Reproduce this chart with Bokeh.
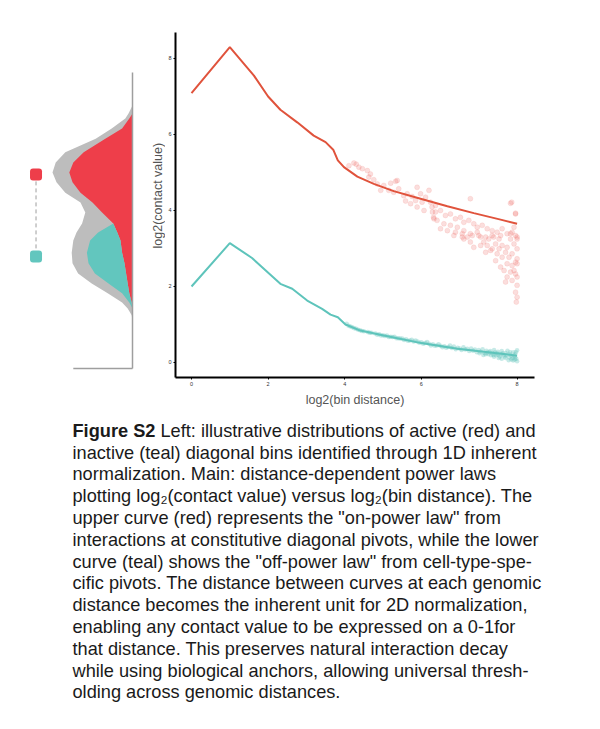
from bokeh.plotting import figure
from bokeh.layouts import column, row
from bokeh.models import Range1d, FixedTicker, Rect
from bokeh.core.properties import value
from bokeh.embed import file_html
from bokeh.resources import INLINE
import math

FONT = "Liberation Sans"

# ---------------- data ----------------
# upper "on-power law" curve
on_x = [0, 1, 1.63, 2.0, 2.32, 2.76, 3.19, 3.5, 3.7, 3.82, 3.98, 4.33, 4.76, 5.28, 5.98, 6.68, 7.37, 8.07, 8.5]
on_y = [7.09, 8.30, 7.55, 7.0, 6.65, 6.32, 5.97, 5.80, 5.60, 5.32, 5.14, 4.89, 4.70, 4.51, 4.31, 4.11, 3.93, 3.76, 3.65]
# lower "off-power law" curve
off_x = [0, 1, 1.58, 2.32, 2.63, 3.02, 3.41, 3.63, 3.82, 4.02, 4.41, 5.02, 6.0, 6.94, 8.5]
off_y = [2.0, 3.14, 2.75, 2.07, 1.94, 1.63, 1.41, 1.26, 1.19, 1.0, 0.84, 0.71, 0.51, 0.36, 0.18]

# observed contact values around the on-curve (red points)
red_pts = [
    (4.11, 5.18), (4.24, 5.25), (4.37, 5.14), (4.46, 5.10), (4.59, 5.05), (4.67, 4.96), (4.63, 4.88),
    (4.76, 4.81), (4.85, 4.70), (4.94, 4.53), (5.02, 4.66), (5.20, 4.72), (5.33, 4.77), (5.15, 4.53),
    (5.28, 4.48), (5.41, 4.57), (5.54, 4.39), (5.63, 4.44), (5.76, 4.37), (5.89, 4.61), (5.98, 4.44),
    (6.11, 4.35), (6.20, 4.53), (5.85, 4.26), (6.02, 4.22), (6.24, 4.22), (6.37, 4.13), (5.72, 4.18),
    (5.59, 4.25), (6.07, 4.00), (6.29, 3.96), (6.33, 3.78), (5.89, 4.09), (5.37, 4.79), (4.30, 5.22),
    (7.28, 4.31), (8.36, 4.22), (8.46, 3.91), (6.28, 4.09), (6.37, 3.96), (6.50, 4.00), (6.63, 3.87),
    (6.76, 3.91), (6.89, 3.78), (7.02, 3.82), (7.11, 3.69), (7.24, 3.74), (7.37, 3.65), (7.46, 3.56),
    (7.59, 3.61), (7.72, 3.52), (7.85, 3.47), (7.98, 3.43), (8.11, 3.52), (8.24, 3.39), (8.37, 3.43),
    (8.46, 3.34), (6.41, 3.74), (6.59, 3.65), (6.76, 3.61), (6.94, 3.56), (7.11, 3.47), (7.28, 3.39),
    (7.50, 3.34), (7.68, 3.30), (7.89, 3.30), (8.07, 3.34), (6.68, 3.47), (6.85, 3.34), (7.07, 3.30),
    (6.50, 3.52), (6.32, 3.82), (8.42, 3.56), (8.50, 3.25), (8.33, 3.25), (8.33, 4.19), (8.46, 3.93),
    (6.89, 3.43), (7.07, 3.39), (7.20, 3.30), (7.33, 3.34), (7.46, 3.43), (7.55, 3.30), (7.63, 3.17),
    (7.76, 3.25), (7.85, 3.34), (7.94, 3.12), (8.03, 2.99), (8.11, 3.08), (8.20, 2.90), (8.29, 2.77),
    (8.37, 2.86), (8.46, 2.64), (8.50, 2.73), (8.42, 2.42), (8.24, 2.60), (8.11, 2.77), (7.98, 2.86),
    (7.85, 2.99), (7.72, 3.08), (8.33, 3.39), (8.50, 2.99), (8.50, 2.60), (8.46, 2.33), (8.37, 2.16),
    (8.50, 2.03), (8.46, 1.85), (8.50, 1.72), (8.48, 1.59), (8.16, 2.42), (8.24, 2.25), (8.07, 2.51),
    (8.33, 2.38), (7.81, 2.95), (7.55, 3.08), (7.28, 3.17), (7.37, 3.03), (7.68, 2.90), (7.94, 2.68),
    (8.24, 3.03), (8.42, 3.12), (8.50, 3.30), (8.03, 3.25), (7.11, 3.25), (8.37, 2.55), (8.50, 2.25),
    (8.20, 2.12),
]
# observed contact values around the off-curve (teal points)
teal_pts = [
    (4.05, 1.02), (4.10, 0.97), (4.15, 0.95), (4.20, 0.93), (4.25, 0.90), (4.30, 0.89), (4.35, 0.86),
    (4.40, 0.85), (4.45, 0.83), (4.50, 0.82), (4.60, 0.80), (4.65, 0.78), (4.70, 0.78), (4.80, 0.76),
    (4.85, 0.73), (4.90, 0.74), (5.00, 0.72), (5.05, 0.70), (5.10, 0.71), (5.20, 0.68), (5.25, 0.67),
    (5.30, 0.68), (5.40, 0.64), (5.45, 0.63), (5.50, 0.63), (5.55, 0.59), (5.60, 0.61), (5.70, 0.58),
    (5.75, 0.60), (5.80, 0.55), (5.90, 0.55), (5.95, 0.52), (6.00, 0.53), (6.05, 0.49), (6.10, 0.51),
    (6.20, 0.49), (6.25, 0.45), (6.30, 0.48), (6.35, 0.44), (6.40, 0.45), (6.50, 0.44), (6.55, 0.40),
    (6.60, 0.43), (6.65, 0.39), (6.70, 0.41), (6.80, 0.38), (6.85, 0.42), (6.90, 0.35), (6.95, 0.39),
    (7.00, 0.37), (7.05, 0.33), (7.10, 0.40), (7.15, 0.34), (7.20, 0.36), (7.25, 0.30), (7.30, 0.37),
    (7.35, 0.31), (7.40, 0.34), (7.45, 0.27), (7.50, 0.33), (7.55, 0.28), (7.60, 0.35), (7.65, 0.25),
    (7.70, 0.31), (7.75, 0.22), (7.80, 0.30), (7.85, 0.24), (7.90, 0.33), (7.95, 0.19), (8.00, 0.28),
    (8.05, 0.16), (8.10, 0.30), (8.15, 0.20), (8.20, 0.12), (8.25, 0.31), (8.30, 0.22), (8.35, 0.08),
    (8.40, 0.27), (8.45, 0.14), (8.50, 0.03), (8.50, 0.32), (8.45, 0.22), (8.40, 0.05), (8.35, 0.18),
    (8.48, 0.10), (8.30, 0.13), (8.20, 0.25), (8.10, 0.10), (8.00, 0.21), (7.90, 0.15),
    (7.52, 0.24), (7.62, 0.20), (7.72, 0.26), (7.82, 0.19), (7.92, 0.26), (8.02, 0.12), (8.12, 0.24),
    (8.22, 0.19), (8.32, 0.27), (8.42, 0.18), (8.47, 0.27), (8.44, 0.08), (8.38, 0.12), (8.28, 0.06),
    (8.18, 0.16), (8.08, 0.22), (7.98, 0.24), (7.88, 0.20), (7.78, 0.27), (7.68, 0.22), (6.75, 0.45),
    (6.45, 0.48), (6.15, 0.54), (5.85, 0.58), (5.65, 0.57), (5.35, 0.64), (5.15, 0.67), (4.95, 0.71),
]

x_ticks = [0, 2, 4, 6, 8.5]
x_tick_labels = ["0", "2", "4", "6", "8"]
y_ticks = [0, 2, 4, 6, 8]
x_title = "log2(bin distance)"
y_title = "log2(contact value)"

# left panel: illustrative densities over log2(contact value) levels
dens_level = [6.76, 6.55, 6.42, 6.16, 5.89, 5.53, 5.26, 5.00, 4.74, 4.47, 4.21, 3.95,
              3.66, 3.42, 3.21, 2.89, 2.61, 2.34, 2.08, 1.82, 1.58, 1.42, 1.24, 1.11]
dens_all = [0, 0.05, 0.09, 0.26, 0.46, 0.84, 0.96, 1.0, 0.95, 0.84, 0.65, 0.59,
            0.63, 0.70, 0.74, 0.76, 0.75, 0.68, 0.51, 0.31, 0.13, 0.06, 0.01, 0]
dens_active = [0, 0, 0.04, 0.13, 0.34, 0.61, 0.74, 0.79, 0.75, 0.65, 0.50, 0.38,
               0.24, 0.19, 0.15, 0.13, 0.10, 0.08, 0.06, 0.04, 0.01, 0, 0, 0]
dens_inactive = [0, 0, 0, 0, 0, 0, 0, 0, 0, 0, 0, 0,
                 0, 0.24, 0.38, 0.44, 0.45, 0.39, 0.24, 0.09, 0.03, 0, 0, 0]
peak_levels = [4.95, 2.79]   # active / inactive modes
peak_colors = ["#EE3E4A", "#62C6BE"]

caption_lines = [
    "inactive (teal) diagonal bins identified through 1D inherent",
    "normalization. Main: distance-dependent power laws",
    "plotting log\u2082(contact value) versus log\u2082(bin distance). The",
    "upper curve (red) represents the \"on-power law\" from",
    "interactions at constitutive diagonal pivots, while the lower",
    "curve (teal) shows the \"off-power law\" from cell-type-spe-",
    "cific pivots. The distance between curves at each genomic",
    "distance becomes the inherent unit for 2D normalization,",
    "enabling any contact value to be expressed on a 0-1for",
    "that distance. This preserves natural interaction decay",
    "while using biological anchors, allowing universal thresh-",
    "olding across genomic distances.",
]
caption_head = "Figure S2"
caption_first = "Left: illustrative distributions of active (red) and"

RED_LINE = "#E0533C"
TEAL = "#5EC4BB"

# shared vertical geometry (page pixels)
TOP, BOTTOM, ROW_H = 32, 33, 410
Y_RANGE = (-0.395, 8.684)

# ---------------- left panel (+ y-axis title) ----------------
left = figure(width=165, height=ROW_H, x_range=Range1d(1.65, -0.4125), y_range=Range1d(*Y_RANGE),
              toolbar_location=None, output_backend="svg",
              min_border_left=0, min_border_right=0, min_border_top=TOP, min_border_bottom=BOTTOM,
              x_axis_type=None, y_axis_type=None)
left.outline_line_color = None
left.background_fill_color = "white"
left.border_fill_color = "white"

zeros = [0] * len(dens_level)
stack_top = [a + b for a, b in zip(dens_active, dens_inactive)]
left.harea(x1=zeros, x2=dens_all, y=dens_level, fill_color="#BDBDBD")
left.harea(x1=zeros, x2=dens_active, y=dens_level, fill_color="#EE3E4A")
left.harea(x1=dens_active, x2=stack_top, y=dens_level, fill_color="#62C6BE")

base_top, base_bottom, base_width = 7.63, -0.16, 0.74
left.segment(x0=[0, 0], y0=[base_top, base_bottom], x1=[0, base_width], y1=[base_bottom, base_bottom],
             line_color="#9E9E9E", line_width=1.5)

marker_x = 1.206
left.segment(x0=[marker_x], y0=[peak_levels[0]], x1=[marker_x], y1=[peak_levels[1]],
             line_color="#9E9E9E", line_width=1, line_dash="4 3")
rect_kw = dict(x=[marker_x] * 2, y=peak_levels, width=12, height=12, width_units="screen",
               height_units="screen", fill_color=peak_colors, line_color=None)
if "border_radius" in Rect.properties():
    rect_kw["border_radius"] = 3
left.rect(**rect_kw)

# y-axis title of the main plot (placed beside its axis)
left.text(x=[-0.3125], y=[4.39], text=[y_title], angle=math.pi / 2,
          text_font=value(FONT), text_font_size="12.5px", text_color="#555555",
          text_align="center", text_baseline="middle")

# ---------------- main plot ----------------
p = figure(width=419, height=ROW_H, x_range=Range1d(-0.418, 8.955), y_range=Range1d(*Y_RANGE),
           toolbar_location=None, output_backend="svg",
           min_border_left=10, min_border_right=50, min_border_top=TOP, min_border_bottom=BOTTOM)
p.outline_line_color = None
p.grid.visible = False
p.background_fill_color = "white"
p.border_fill_color = "white"

p.scatter([t[0] for t in red_pts], [t[1] for t in red_pts], size=5, fill_color="#EC6A62",
          fill_alpha=0.22, line_color="#EC6A62", line_alpha=0.12)
p.scatter([t[0] for t in teal_pts], [t[1] for t in teal_pts], size=4.5, fill_color=TEAL,
          fill_alpha=0.35, line_color=None)
p.line(on_x, on_y, line_color=RED_LINE, line_width=2)
p.line(off_x, off_y, line_color=TEAL, line_width=2)

p.xaxis.ticker = FixedTicker(ticks=x_ticks)
p.xaxis.major_label_overrides = {t: l for t, l in zip(x_ticks, x_tick_labels)}
p.yaxis.ticker = FixedTicker(ticks=y_ticks)
p.xaxis.axis_label = x_title
for ax in (p.xaxis[0], p.yaxis[0]):
    ax.axis_line_color = "black"
    ax.axis_line_width = 2
    ax.major_tick_line_color = "black"
    ax.major_tick_in = 0
    ax.major_tick_out = 2
    ax.minor_tick_line_color = None
    ax.major_label_text_font = FONT
    ax.major_label_text_font_size = "5.5px"
    ax.major_label_text_color = "#333333"
    ax.major_label_standoff = 2
    ax.axis_label_text_font = FONT
    ax.axis_label_text_font_size = "12.5px"
    ax.axis_label_text_font_style = "normal"
    ax.axis_label_text_color = "#555555"
    ax.axis_label_standoff = 4

# ---------------- caption ----------------
cap = figure(width=592, height=315, x_range=Range1d(0, 592), y_range=Range1d(725, 410),
             toolbar_location=None, output_backend="svg", min_border=0,
             x_axis_type=None, y_axis_type=None)
cap.outline_line_color = None
cap.background_fill_color = "white"
cap.border_fill_color = "white"

x0, y0, lh = 72, 430.2, 21.8
txt = dict(text_font=value(FONT), text_font_size="18.2px", text_color="#1A1A1A",
           text_baseline="alphabetic", text_align="left")
cap.text(x=[x0], y=[y0], text=[caption_head], text_font_style="bold", **txt)
cap.text(x=[x0 + 88], y=[y0], text=[caption_first], **txt)
cap.text(x=[x0] * len(caption_lines), y=[y0 + lh * (i + 1) for i in range(len(caption_lines))],
         text=caption_lines, **txt)

layout = column(row(left, p), cap)
open("out.html", "w").write(file_html(layout, INLINE))
